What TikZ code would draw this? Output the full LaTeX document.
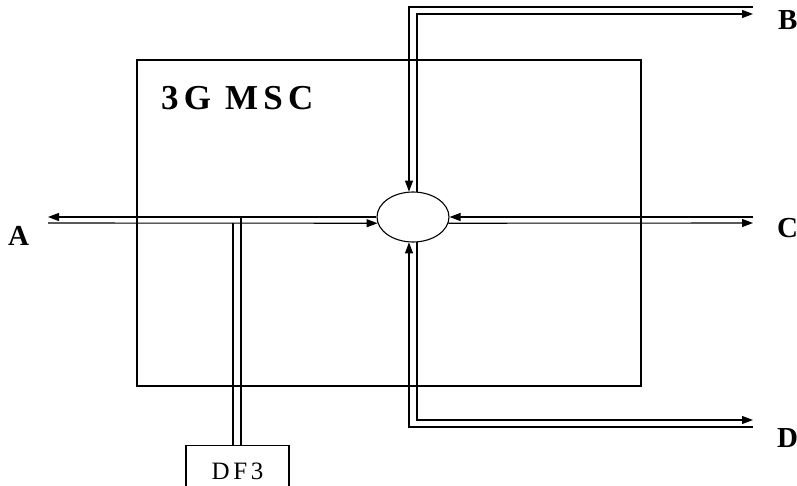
\documentclass[tikz,border=0pt]{standalone}
\usepackage{fontspec}
\setmainfont{Liberation Serif}
\newfontfamily\spacedfont[LetterSpace=15]{Liberation Serif}
\usepackage{tikz}
\usetikzlibrary{arrows.meta,positioning,shapes.geometric}

\begin{document}
\begin{tikzpicture}[
    x=1pt, y=-1pt,
    line/.style={line width=1.1pt},
    arr/.style={line width=1.1pt, -{Triangle[length=11pt, width=8pt]}},
    lbl/.style={font=\fontsize{29}{29}\selectfont\bfseries, inner sep=0pt, anchor=base west},
    >=Triangle
]
  \useasboundingbox (0,0) rectangle (797,486);
  \clip (0,0) rectangle (797,486);

  % MSC box
  \node[draw, line, minimum width=504pt, minimum height=326pt, inner sep=0pt] (msc) at (389,223) {};
  \node[font=\spacedfont\fontsize{35}{35}\selectfont\bfseries, inner sep=0pt, anchor=base west] (msclab) at (161,110) {3G MSC};

  % switch
  \node[draw, line, ellipse, minimum width=72pt, minimum height=50pt, inner sep=0pt] (sw) at (413,217) {};

  % DF3
  \node[draw, line, minimum width=103pt, minimum height=52pt, inner sep=0pt, anchor=north,
        font=\spacedfont\fontsize{25}{25}\selectfont] (df3) at (237.5,445) {DF3};

  % labels
  \node[lbl] (la) at (8,246) {A};
  \node[lbl] (lb) at (778,30) {B};
  \node[lbl] (lc) at (777,238) {C};
  \node[lbl] (ld) at (777,447) {D};

  % free ends
  \coordinate (aout) at (48,217);
  \coordinate (ain) at (48,223);
  \coordinate (bout) at (753,7);
  \coordinate (bin) at (753,14);
  \coordinate (cout) at (753,217);
  \coordinate (cin) at (753,223);
  \coordinate (din) at (753,420);
  \coordinate (dout) at (753,427);
  \coordinate (tapl) at (233,223);
  \coordinate (tapr) at (241,217);

  % A side
  \draw[arr] (sw.west) -- (aout);
  \draw[arr] (ain) -- (sw.190);

  % B side
  \draw[arr] (bout) -| (sw.99);
  \draw[arr] (sw.81) |- (bin);

  % C side
  \draw[arr] (cout) -- (sw.east);
  \draw[arr] (sw.-10) -- (cin);

  % D side
  \draw[arr] (sw.-81) |- (din);
  \draw[arr] (dout) -| (sw.-99);

  % tap to DF3
  \draw[line] (tapl) -- (tapl |- df3.north);
  \draw[line] (tapr) -- (tapr |- df3.north);
\end{tikzpicture}
\end{document}
